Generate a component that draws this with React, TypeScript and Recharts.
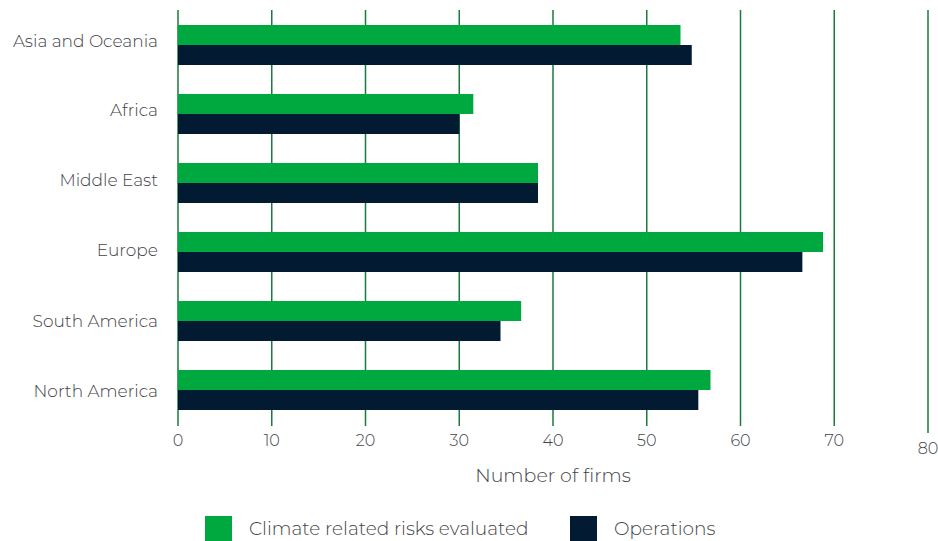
import { BarChart, Bar, XAxis, YAxis, CartesianGrid } from 'recharts';

const regions = ['Asia and Oceania', 'Africa', 'Middle East', 'Europe', 'South America', 'North America'];
const climateRisks = [53.6, 31.5, 38.4, 68.8, 36.6, 56.8];
const operations = [54.8, 30.0, 38.4, 66.6, 34.4, 55.5];
const xTicks = [0, 10, 20, 30, 40, 50, 60, 70, 80];

const GREEN = '#00a93f';
const NAVY = '#031a33';
const GRID = '#1a7a3c';
const FONT = 'Montserrat, "Open Sans", sans-serif';
const TEXT = '#3f4448';

const data = regions.map((region, i) => ({
  region,
  climate: climateRisks[i],
  operations: operations[i],
}));

// labels in the original sit a touch above the bar pairs near the top
const labelShift = [-4, -4, -3, -2, 0, 1];

function XTick(props: any) {
  const { x, y, payload } = props;
  const last = payload.value === 80;
  return (
    <g>
      <line x1={x} x2={x} y1={y} y2={y + (last ? 9 : 2)} stroke={GRID} strokeWidth={1.5} />
      <text
        x={x}
        y={y + (last ? 30 : 22)}
        textAnchor="middle"
        fill={TEXT}
        fontSize={16}
        fontFamily={FONT}
        fontWeight={300}
      >
        {payload.value}
      </text>
    </g>
  );
}

function YTick(props: any) {
  const { x, y, payload, index } = props;
  return (
    <text
      x={x}
      y={y + (labelShift[index] || 0)}
      dy={6}
      textAnchor="end"
      fill={TEXT}
      fontSize={17}
      fontFamily={FONT}
      fontWeight={300}
    >
      {payload.value}
    </text>
  );
}

export default function App() {
  return (
    <div style={{ position: 'absolute', left: 0, top: 0, width: 938, height: 541, background: '#fff', overflow: 'hidden' }}>
      <BarChart
        width={938}
        height={541}
        data={data}
        layout="vertical"
        margin={{ top: 10, right: 10, left: 0, bottom: 55 }}
        barSize={20}
        barGap={0}
      >
        <CartesianGrid horizontal={false} stroke={GRID} strokeWidth={1.5} />
        <XAxis
          type="number"
          domain={[0, 80]}
          ticks={xTicks}
          axisLine={false}
          tickLine={false}
          tickSize={0}
          tickMargin={0}
          height={62}
          tick={<XTick />}
          label={{
            value: 'Number of firms',
            position: 'insideBottom',
            offset: 4,
            fill: TEXT,
            fontSize: 19,
            fontFamily: FONT,
            fontWeight: 300,
          }}
        />
        <YAxis
          type="category"
          dataKey="region"
          width={178}
          axisLine={false}
          tickLine={false}
          tickSize={0}
          tickMargin={20}
          tick={<YTick />}
        />
        <Bar dataKey="climate" name="Climate related risks evaluated" fill={GREEN} isAnimationActive={false} />
        <Bar dataKey="operations" name="Operations" fill={NAVY} isAnimationActive={false} />
      </BarChart>
      <div style={{ position: 'absolute', left: 205, top: 516, height: 25, display: 'flex', alignItems: 'center', fontFamily: FONT, fontWeight: 300, fontSize: 18.5, color: TEXT }}>
        <span style={{ width: 27, height: 25, background: GREEN, display: 'inline-block' }} />
        <span style={{ marginLeft: 17, width: 321 }}>Climate related risks evaluated</span>
        <span style={{ width: 27, height: 25, background: NAVY, display: 'inline-block' }} />
        <span style={{ marginLeft: 17 }}>Operations</span>
      </div>
    </div>
  );
}
